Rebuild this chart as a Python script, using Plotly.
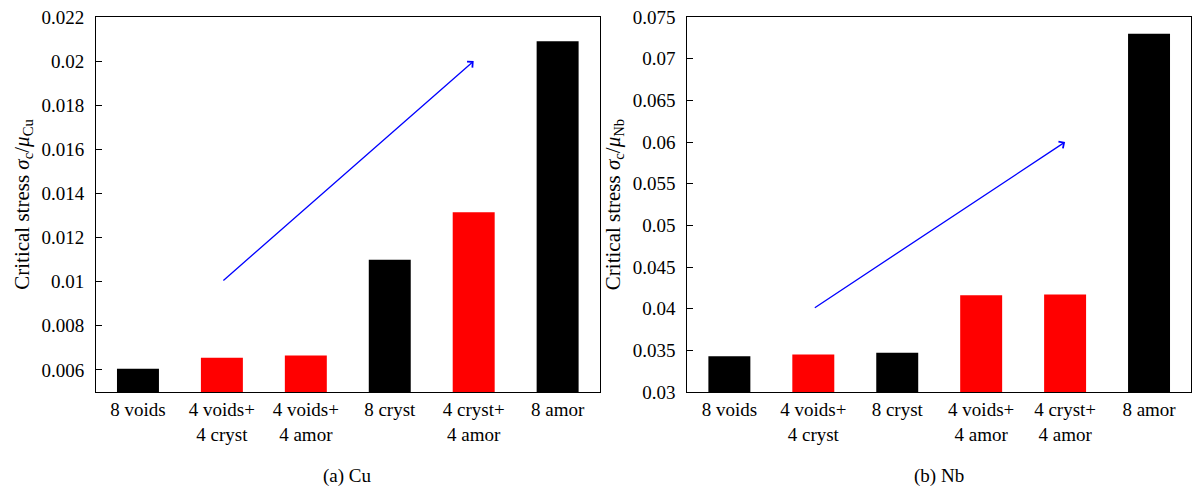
import plotly.graph_objects as go

cu_labels = ["8 voids", "4 voids+<br>4 cryst", "4 voids+<br>4 amor", "8 cryst", "4 cryst+<br>4 amor", "8 amor"]
cu_values = [0.00605, 0.00655, 0.00665, 0.0110, 0.01315, 0.0209]
cu_colors = ["black", "red", "red", "black", "red", "black"]

nb_labels = ["8 voids", "4 voids+<br>4 cryst", "8 cryst", "4 voids+<br>4 amor", "4 cryst+<br>4 amor", "8 amor"]
nb_values = [0.0343, 0.0345, 0.0347, 0.0416, 0.0417, 0.0730]
nb_colors = ["black", "red", "black", "red", "red", "black"]

cu_ticks = [0.006, 0.008, 0.01, 0.012, 0.014, 0.016, 0.018, 0.02, 0.022]
cu_ticktext = ["0.006", "0.008", "0.01", "0.012", "0.014", "0.016", "0.018", "0.02", "0.022"]
nb_ticks = [0.03, 0.035, 0.04, 0.045, 0.05, 0.055, 0.06, 0.065, 0.07, 0.075]
nb_ticktext = ["0.03", "0.035", "0.04", "0.045", "0.05", "0.055", "0.06", "0.065", "0.07", "0.075"]

cu_arrow = {"x0": 1, "y0": 0.01, "x1": 4, "y1": 0.02}
nb_arrow = {"x0": 1, "y0": 0.04, "x1": 4, "y1": 0.06}

FONT = "Liberation Serif"
FS = 19

fig = go.Figure()
fig.add_trace(go.Bar(x=list(range(6)), y=cu_values, marker=dict(color=cu_colors, line=dict(width=0)),
                     width=0.5, xaxis="x", yaxis="y", showlegend=False))
fig.add_trace(go.Bar(x=list(range(6)), y=nb_values, marker=dict(color=nb_colors, line=dict(width=0)),
                     width=0.5, xaxis="x2", yaxis="y2", showlegend=False))

axis_common = dict(showline=True, linecolor="black", linewidth=1, mirror=True,
                   showgrid=False, zeroline=False,
                   tickfont=dict(family=FONT, size=FS, color="black"))

fig.update_layout(
    width=1199, height=492,
    margin=dict(l=96, r=7, t=13, b=100),
    paper_bgcolor="white", plot_bgcolor="white",
    font=dict(family=FONT, color="black"),
    xaxis=dict(domain=[0, 0.4599], range=[-0.5, 5.5], tickvals=list(range(6)), ticktext=cu_labels,
               ticks="", **axis_common),
    yaxis=dict(range=[0.005, 0.022], tickvals=cu_ticks, ticktext=cu_ticktext, ticks="inside",
               ticklen=6, tickcolor="black", ticklabelstandoff=7,
               title=dict(text="Critical stress <i>σ</i><sub>c</sub>/<i>μ</i><sub>Cu</sub>",
                          font=dict(family=FONT, size=21), standoff=6),
               **axis_common),
    xaxis2=dict(domain=[0.5401, 1], range=[-0.5, 5.5], tickvals=list(range(6)), ticktext=nb_labels,
                ticks="", anchor="y2", **axis_common),
    yaxis2=dict(range=[0.03, 0.075], tickvals=nb_ticks, ticktext=nb_ticktext, ticks="inside",
                ticklen=6, tickcolor="black", anchor="x2", ticklabelstandoff=7,
                title=dict(text="Critical stress <i>σ</i><sub>c</sub>/<i>μ</i><sub>Nb</sub>",
                           font=dict(family=FONT, size=21), standoff=6),
                **axis_common),
    bargap=0.5,
)

for arr, xr, yr in [(cu_arrow, "x", "y"), (nb_arrow, "x2", "y2")]:
    fig.add_annotation(x=arr["x1"], y=arr["y1"], ax=arr["x0"], ay=arr["y0"],
                       xref=xr, yref=yr, axref=xr, ayref=yr, text="",
                       showarrow=True, arrowhead=4, arrowsize=1.2, arrowwidth=1.3, arrowcolor="blue")

fig.add_annotation(x=0.2299, y=-0.224, xref="paper", yref="paper", text="(a) Cu", showarrow=False,
                   xanchor="center", yanchor="middle", font=dict(family=FONT, size=FS, color="black"))
fig.add_annotation(x=0.77, y=-0.224, xref="paper", yref="paper", text="(b) Nb", showarrow=False,
                   xanchor="center", yanchor="middle", font=dict(family=FONT, size=FS, color="black"))

fig.write_html("out.html")
